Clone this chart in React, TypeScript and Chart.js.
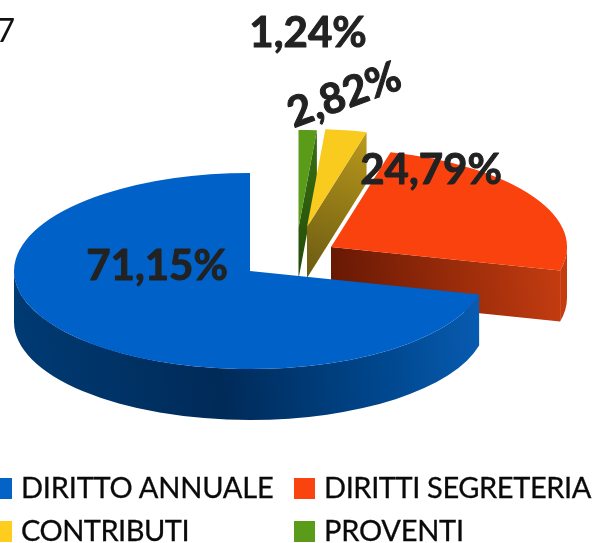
import React, { useEffect, useRef } from "react";
import { Chart, registerables } from "chart.js";

Chart.register(...registerables);

const categories = ["DIRITTO ANNUALE", "DIRITTI SEGRETERIA", "CONTRIBUTI", "PROVENTI"];
const shares = [71.15, 24.79, 2.82, 1.24];

const topColors = ["#0061c8", "#f9420e", "#f9cb1f", "#5a9c1a"];
const legendColors = ["#0563c8", "#fa4410", "#ffcd1e", "#5a9c1a"];
const rimStops = [
  ["#003a72", "#002a58", "#00488f", "#0a5fb8"],
  ["#c43c10", "#c43c10", "#c43c10", "#c43c10"],
  ["#b8971c", "#b8971c", "#b8971c", "#b8971c"],
  ["#3a6e12", "#3a6e12", "#3a6e12", "#3a6e12"],
];
const faceStops = [
  ["#00264f", "#0a5fb8"],
  ["#661804", "#c43c10"],
  ["#6a5a12", "#bb991c"],
  ["#234a0a", "#3a7012"],
];
// Slice displacement of the exploded wedges, in pixels (x, y), legend order.
const explode = [[0, 0], [81, -24], [57, -44], [48.5, -43]];
const labelPlace = [
  { x: 157, y: 280, rot: 0 },
  { x: 431, y: 184, rot: 0 },
  { x: 349, y: 108, rot: -20 },
  { x: 308, y: 47, rot: 0 },
];

const SQUASH = 98 / 236;
const DEPTH = 51;
const LEGEND_FONT = "Lato, Carlito, sans-serif";

const legendPlace = [
  { swatch: -9, text: 21, top: 478, spacing: -0.2 },
  { swatch: 294, text: 324, top: 478, spacing: -0.4 },
  { swatch: -9, text: 21, top: 521, spacing: -0.5 },
  { swatch: 294, text: 324, top: 521, spacing: -0.25 },
];

const pie3d = {
  id: "pie3d",
  beforeDatasetDraw(chart: any) {
    const ctx = chart.ctx;
    const meta = chart.getDatasetMeta(0);
    const n = categories.length;
    // paint back to front: smallest wedges first, the big slice last
    for (let d = 0; d < n; d++) {
      const legendIdx = n - 1 - d;
      const el = meta.data[d];
      const [ex, ey] = explode[legendIdx];
      const cx = el.x + ex;
      const cy = el.y + ey;
      const R = el.outerRadius;
      const Ry = R * SQUASH;
      const a = Math.max(el.startAngle, 0);
      const b = Math.min(el.endAngle, Math.PI);

      // outer wall
      if (b > a) {
        const g = ctx.createLinearGradient(cx - R, cy, cx + R, cy - R * 0.25);
        const s = rimStops[legendIdx];
        g.addColorStop(0, s[0]);
        g.addColorStop(0.4, s[1]);
        g.addColorStop(0.75, s[2]);
        g.addColorStop(1, s[3]);
        ctx.beginPath();
        ctx.ellipse(cx, cy, R, Ry, 0, a, b);
        ctx.ellipse(cx, cy + DEPTH, R, Ry, 0, b, a, true);
        ctx.closePath();
        ctx.fillStyle = g;
        ctx.fill();
      }

      // cut wall on the clockwise edge
      const rx = cx + R * Math.cos(el.endAngle);
      const ry = cy + Ry * Math.sin(el.endAngle);
      const f = ctx.createLinearGradient(cx, cy + DEPTH, rx, ry);
      f.addColorStop(0, faceStops[legendIdx][0]);
      f.addColorStop(1, faceStops[legendIdx][1]);
      ctx.beginPath();
      ctx.moveTo(cx, cy);
      ctx.lineTo(rx, ry);
      ctx.lineTo(rx, ry + DEPTH);
      ctx.lineTo(cx, cy + DEPTH);
      ctx.closePath();
      ctx.fillStyle = f;
      ctx.fill();

      // top face: the library's own arc, squashed into an ellipse
      ctx.save();
      ctx.translate(cx, cy);
      ctx.scale(1, SQUASH);
      ctx.translate(-el.x, -el.y);
      el.draw(ctx);
      ctx.restore();
    }
    return false;
  },
  afterDraw(chart: any) {
    const ctx = chart.ctx;
    ctx.save();
    ctx.font = "bold 42px Lato, Carlito, sans-serif";
    ctx.fillStyle = "#222222";
    ctx.strokeStyle = "#222222";
    ctx.lineWidth = 1;
    ctx.lineJoin = "round";
    ctx.textAlign = "center";
    ctx.textBaseline = "alphabetic";
    shares.forEach((v, i) => {
      const p = labelPlace[i];
      const text = v.toFixed(2).replace(".", ",") + "%";
      ctx.save();
      ctx.translate(p.x, p.y);
      ctx.rotate((p.rot * Math.PI) / 180);
      ctx.fillText(text, 0, 0);
      ctx.strokeText(text, 0, 0);
      ctx.restore();
    });
    ctx.restore();
  },
};

export default function App() {
  const ref = useRef<HTMLCanvasElement>(null);
  useEffect(() => {
    const chart = new Chart(ref.current as HTMLCanvasElement, {
      type: "pie",
      data: {
        labels: [...categories].reverse(),
        datasets: [
          {
            data: [...shares].reverse(),
            backgroundColor: [...topColors].reverse(),
            borderWidth: 0,
          },
        ],
      },
      options: {
        responsive: false,
        animation: false,
        layout: { padding: { left: 14, right: 108, top: 35, bottom: 36 } },
        plugins: { legend: { display: false }, tooltip: { enabled: false } },
      },
      plugins: [pie3d],
    } as any);
    return () => chart.destroy();
  }, []);

  return (
    <div style={{ position: "fixed", left: 0, top: 0, width: 594, height: 543, overflow: "hidden", background: "#fff" }}>
      <canvas ref={ref} width={594} height={543} style={{ position: "absolute", left: 0, top: 0 }} />
      <span style={{ position: "absolute", left: -4, top: 9, font: `33px/40px ${LEGEND_FONT}`, color: "#111" }}>7</span>
      {categories.map((c, i) => (
        <React.Fragment key={c}>
          <div
            style={{
              position: "absolute",
              left: legendPlace[i].swatch,
              top: legendPlace[i].top,
              width: 21,
              height: 21,
              background: legendColors[i],
            }}
          />
          <span
            style={{
              position: "absolute",
              left: legendPlace[i].text,
              top: legendPlace[i].top - 9,
              font: `29px/36px ${LEGEND_FONT}`,
              letterSpacing: legendPlace[i].spacing,
              color: "#0a0a0a",
              whiteSpace: "nowrap",
              WebkitTextStroke: "0.3px #0a0a0a",
            }}
          >
            {c}
          </span>
        </React.Fragment>
      ))}
    </div>
  );
}
